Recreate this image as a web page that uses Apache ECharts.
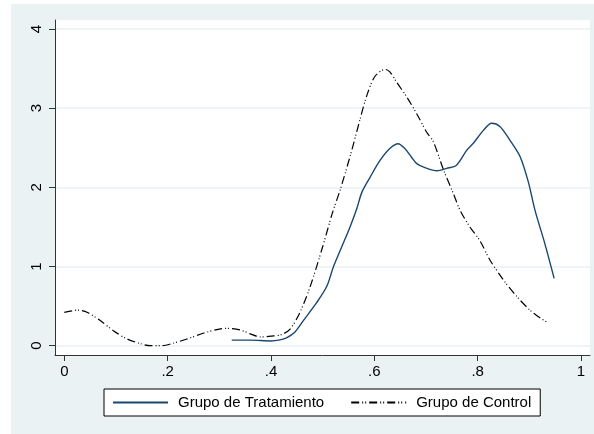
<!DOCTYPE html>
<html>
<head>
<meta charset="utf-8">
<script src="https://cdn.jsdelivr.net/npm/echarts@6/dist/echarts.min.js"></script>
<style>
  html, body { margin: 0; padding: 0; background: #fff; }
  #chart { width: 594px; height: 434px; }
</style>
</head>
<body>
<div id="chart"></div>
<script>
// Kernel density estimates
const treatX = [0.324, 0.36, 0.40, 0.415, 0.43, 0.446, 0.463, 0.488, 0.508, 0.521, 0.537, 0.553, 0.566, 0.576, 0.592, 0.611, 0.63, 0.646, 0.659, 0.672, 0.682, 0.698, 0.721, 0.74, 0.759, 0.779, 0.792, 0.811, 0.827, 0.843, 0.862, 0.882, 0.898, 0.911, 0.93, 0.948];
const treatY = [0.07, 0.07, 0.06, 0.07, 0.10, 0.17, 0.32, 0.54, 0.75, 1.00, 1.25, 1.50, 1.73, 1.94, 2.13, 2.34, 2.49, 2.55, 2.49, 2.38, 2.30, 2.25, 2.21, 2.24, 2.28, 2.47, 2.56, 2.72, 2.81, 2.77, 2.60, 2.39, 2.07, 1.71, 1.29, 0.85];

const controlX = [0.0, 0.015, 0.027, 0.045, 0.069, 0.095, 0.12, 0.145, 0.166, 0.19, 0.21, 0.24, 0.27, 0.30, 0.315, 0.34, 0.36, 0.38, 0.40, 0.42, 0.437, 0.456, 0.476, 0.50, 0.519, 0.534, 0.553, 0.572, 0.585, 0.601, 0.621, 0.63, 0.643, 0.663, 0.682, 0.701, 0.714, 0.734, 0.753, 0.766, 0.785, 0.804, 0.824, 0.85, 0.876, 0.901, 0.921, 0.936];
const controlY = [0.42, 0.44, 0.45, 0.42, 0.32, 0.19, 0.09, 0.03, 0.00, 0.00, 0.03, 0.09, 0.16, 0.21, 0.22, 0.20, 0.15, 0.11, 0.12, 0.14, 0.21, 0.42, 0.75, 1.25, 1.68, 1.97, 2.39, 2.85, 3.15, 3.40, 3.49, 3.46, 3.33, 3.14, 2.93, 2.70, 2.58, 2.22, 1.92, 1.71, 1.50, 1.33, 1.08, 0.83, 0.62, 0.45, 0.35, 0.29];

const xTicks = [0, 0.2, 0.4, 0.6, 0.8, 1];
const yTicks = [0, 1, 2, 3, 4];
const seriesNames = ['Grupo de Tratamiento', 'Grupo de Control'];

const font = 'Liberation Sans, Arial, sans-serif';
const bgColor = '#eaf2f3';

// Stata style labels: ".2" instead of "0.2"
function stataLabel(v) {
  return String(v).replace(/^0\./, '.');
}

const chart = echarts.init(document.getElementById('chart'), null, { renderer: 'canvas' });

chart.setOption({
  animation: false,
  backgroundColor: '#fff',
  textStyle: { fontFamily: font },
  graphic: [{
    type: 'rect',
    z: -10,
    shape: { x: 11, y: 4, width: 583, height: 430 },
    style: { fill: bgColor }
  }],
  grid: {
    left: 55,
    top: 20,
    right: 4,
    bottom: 79,
    show: true,
    backgroundColor: '#fff',
    borderWidth: 0
  },
  legend: {
    left: 104,
    top: 389,
    orient: 'horizontal',
    backgroundColor: '#fff',
    borderColor: '#000',
    borderWidth: 1,
    borderRadius: 0,
    padding: [6, 9, 6, 8],
    itemWidth: 55,
    itemHeight: 14,
    itemGap: 26,
    // hide the marker dot, keep only the line sample
    itemStyle: { opacity: 0 },
    textStyle: {
      fontFamily: font,
      fontSize: 15,
      color: '#000',
      padding: [0, 0, 0, 5]
    },
    data: seriesNames
  },
  xAxis: {
    type: 'value',
    min: -0.018,
    max: 1.0174,
    axisLine: { show: true, onZero: false, lineStyle: { color: '#333', width: 1 } },
    axisTick: { show: true, customValues: xTicks, length: 6, lineStyle: { color: '#333' } },
    axisLabel: {
      customValues: xTicks,
      formatter: stataLabel,
      fontFamily: font,
      fontSize: 15,
      color: '#000',
      margin: 9
    },
    splitLine: { show: false }
  },
  yAxis: {
    type: 'value',
    min: -0.1175,
    max: 4.114,
    axisLine: { show: true, onZero: false, lineStyle: { color: '#333', width: 1 } },
    axisTick: { show: true, customValues: yTicks, length: 6, lineStyle: { color: '#333' } },
    axisLabel: {
      customValues: yTicks,
      formatter: stataLabel,
      rotate: 90,
      fontFamily: font,
      fontSize: 15,
      color: '#000',
      margin: 11
    },
    splitLine: { show: true, lineStyle: { color: bgColor, width: 1.5 } }
  },
  series: [
    {
      name: seriesNames[0],
      type: 'line',
      data: treatX.map((x, i) => [x, treatY[i]]),
      smooth: 0.3,
      symbol: 'none',
      itemStyle: { color: '#1a476f' },
      lineStyle: { color: '#1a476f', width: 1.4 }
    },
    {
      name: seriesNames[1],
      type: 'line',
      data: controlX.map((x, i) => [x, controlY[i]]),
      smooth: 0.3,
      symbol: 'none',
      itemStyle: { color: '#000' },
      lineStyle: { color: '#000', width: 1.2, type: [8, 3, 1, 2, 1, 3] }
    }
  ]
});
</script>
</body>
</html>
